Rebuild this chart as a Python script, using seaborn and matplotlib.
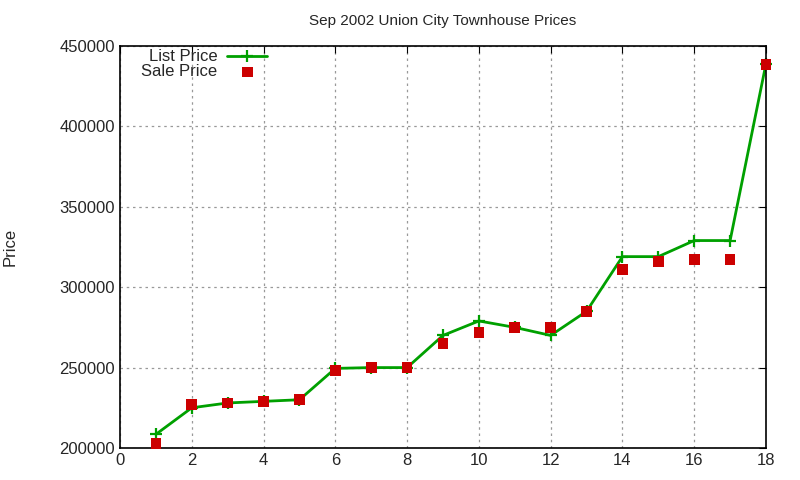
import numpy as np
import pandas as pd
import matplotlib
matplotlib.use("Agg")
import matplotlib.pyplot as plt
import seaborn as sns

# house index and prices
house = list(range(1, 19))
list_price = [208500, 225000, 228000, 229000, 230000, 249500, 250000, 250000, 270000,
              279000, 275000, 270000, 285000, 319000, 319000, 329000, 329000, 439000]
sale_price = [203000, 227000, 228000, 229000, 230000, 248000, 250000, 250000, 265000,
              272000, 275000, 275000, 285000, 311000, 316000, 317000, 317000, 438500]

df = pd.DataFrame({"house": house, "list": list_price, "sale": sale_price})

sns.set_style("white")
plt.rcParams["font.family"] = ["Liberation Sans", "DejaVu Sans"]

fig = plt.figure(figsize=(8, 4.8), dpi=100)
ax = fig.add_axes([0.15, 0.0667, 0.8075, 0.8375])

green = "#00a000"
sns.lineplot(data=df, x="house", y="list", ax=ax, color=green, linewidth=2,
             marker="+", markersize=8, markeredgewidth=1.6, markeredgecolor=green,
             label="List Price", clip_on=False)
sns.scatterplot(data=df, x="house", y="sale", ax=ax, color="#cc0000", marker="s",
                s=60, edgecolor="none", label="Sale Price", zorder=3, clip_on=False)

ax.set_xlim(0, 18)
ax.set_ylim(200000, 450000)
ax.set_xticks(np.arange(0, 19, 2))
ax.set_yticks(np.arange(200000, 450001, 50000))
ax.ticklabel_format(style="plain", axis="y")
ax.grid(True, color="#999999", linestyle=(0, (2, 3)), linewidth=0.9)
ax.tick_params(direction="in", top=True, right=True, labelsize=12, length=5, color="black")
for s in ax.spines.values():
    s.set_color("black")
    s.set_linewidth(1.2)

ax.set_xlabel("")
ax.set_ylabel("Price", fontsize=12, labelpad=30)
ax.set_title("Sep 2002 Union City Townhouse Prices", fontsize=11, pad=15)

leg = ax.legend(loc="upper left", markerfirst=False, frameon=False, fontsize=12,
                handlelength=2.4, borderaxespad=0.1, labelspacing=0.0,
                handletextpad=0.6, bbox_to_anchor=(0.02, 1.012))
for t in leg.get_texts():
    t.set_ha("right")

fig.savefig("out.png", dpi=100)
